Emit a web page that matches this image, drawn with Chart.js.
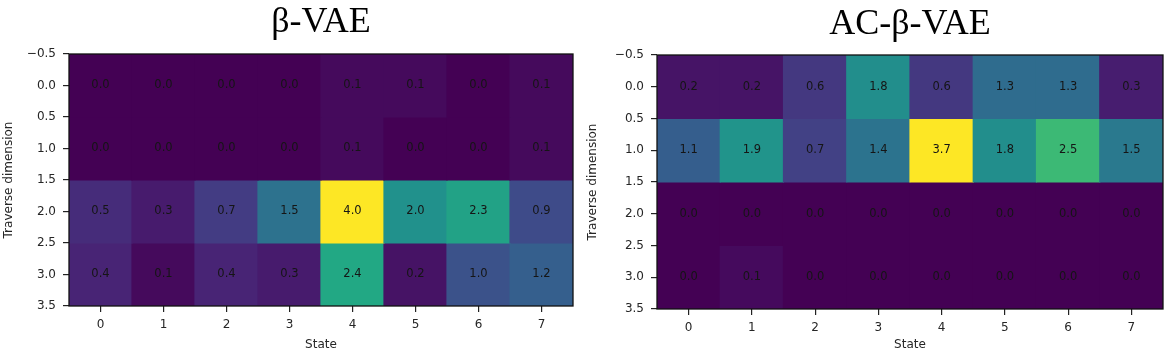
<!DOCTYPE html>
<html>
<head>
<meta charset="utf-8">
<script src="https://cdn.jsdelivr.net/npm/chart.js@4"></script>
<style>
    html, body { margin: 0; padding: 0; background: #ffffff; }
    .panel { position: absolute; top: 0; width: 584px; height: 359px; }
    #left { left: 0; }
    #right { left: 584px; }
</style>
</head>
<body>
<div class="panel" id="left"><canvas id="chartLeft" width="584" height="359"></canvas></div>
<div class="panel" id="right"><canvas id="chartRight" width="584" height="359"></canvas></div>
<script>
const states = ["0", "1", "2", "3", "4", "5", "6", "7"];
const dims = [0, 1, 2, 3];

// β-VAE, one array per traverse dimension
const betaDim0 = [0.0, 0.0, 0.0, 0.0, 0.1, 0.1, 0.0, 0.1];
const betaDim1 = [0.0, 0.0, 0.0, 0.0, 0.1, 0.0, 0.0, 0.1];
const betaDim2 = [0.5, 0.3, 0.7, 1.5, 4.0, 2.0, 2.3, 0.9];
const betaDim3 = [0.4, 0.1, 0.4, 0.3, 2.4, 0.2, 1.0, 1.2];

// AC-β-VAE
const acDim0 = [0.2, 0.2, 0.6, 1.8, 0.6, 1.3, 1.3, 0.3];
const acDim1 = [1.1, 1.9, 0.7, 1.4, 3.7, 1.8, 2.5, 1.5];
const acDim2 = [0.0, 0.0, 0.0, 0.0, 0.0, 0.0, 0.0, 0.0];
const acDim3 = [0.0, 0.1, 0.0, 0.0, 0.0, 0.0, 0.0, 0.0];

const yTicks = [-0.5, 0.0, 0.5, 1.0, 1.5, 2.0, 2.5, 3.0, 3.5];

const viridisStops = [
    "#440154", "#482475", "#414487", "#355f8d", "#2a788e", "#21918c",
    "#22a884", "#44bf70", "#7ad151", "#bddf26", "#fde725"
];

const hexToRgb = (hex) => [1, 3, 5].map((i) => parseInt(hex.slice(i, i + 2), 16));

const viridis = (t) => {
    t = Math.max(0, Math.min(1, t));
    const pos = t * (viridisStops.length - 1);
    const i = Math.min(Math.floor(pos), viridisStops.length - 2);
    const f = pos - i;
    const a = hexToRgb(viridisStops[i]);
    const b = hexToRgb(viridisStops[i + 1]);
    const c = a.map((v, k) => Math.round(v + (b[k] - v) * f));
    return `rgb(${c[0]}, ${c[1]}, ${c[2]})`;
};

const framePlugin = {
    id: "frame",
    afterDatasetsDraw(chart) {
        const { ctx, chartArea } = chart;

        // cell values
        ctx.save();
        ctx.font = "11.5px 'DejaVu Sans'";
        ctx.fillStyle = "#151515";
        ctx.textAlign = "center";
        ctx.textBaseline = "middle";
        chart.data.datasets.forEach((ds, di) => {
            const meta = chart.getDatasetMeta(di);
            meta.data.forEach((bar, i) => {
                const yMid = (bar.y + bar.base) / 2;
                ctx.fillText(ds.values[i].toFixed(1), bar.x, yMid);
            });
        });
        ctx.restore();

        ctx.save();
        ctx.strokeStyle = "#111111";
        ctx.lineWidth = 1.3;
        ctx.strokeRect(chartArea.left, chartArea.top, chartArea.right - chartArea.left, chartArea.bottom - chartArea.top);
        ctx.restore();
    }
};

const makeHeatmap = (canvas, title, rows, box) => {
    const vmax = Math.max(...rows.flat());

    return new Chart(canvas, {
        type: "bar",
        data: {
            labels: states,
            datasets: rows.map((row, r) => ({
                data: row.map(() => [dims[r] - 0.5, dims[r] + 0.5]),
                values: row,
                backgroundColor: row.map((v) => viridis(v / vmax)),
                borderWidth: 0,
                inflateAmount: 0.6,
                barPercentage: 1,
                categoryPercentage: 1,
                grouped: false
            }))
        },
        options: {
            responsive: false,
            animation: false,
            layout: {
                padding: { left: 0, right: box.padRight, top: 0, bottom: 0 }
            },
            plugins: {
                legend: { display: false },
                tooltip: { enabled: false },
                title: {
                    display: true,
                    fullSize: false,
                    text: title,
                    color: "#000000",
                    font: { family: "'Liberation Serif'", size: 36, weight: "normal", lineHeight: 1.1 },
                    padding: { top: box.titleTop, bottom: box.titleBottom }
                }
            },
            scales: {
                x: {
                    afterFit: (scale) => { scale.height = box.xHeight; },
                    border: { display: false },
                    grid: {
                        display: true,
                        offset: false,
                        drawOnChartArea: false,
                        drawTicks: true,
                        tickLength: 6,
                        color: "#222222",
                        lineWidth: 1.2
                    },
                    ticks: {
                        color: "#262626",
                        font: { family: "'DejaVu Sans'", size: 12 },
                        padding: 6,
                        maxRotation: 0
                    },
                    title: {
                        display: true,
                        text: "State",
                        color: "#262626",
                        font: { family: "'DejaVu Sans'", size: 12 },
                        padding: { top: 0, bottom: 7 }
                    }
                },
                y: {
                    type: "linear",
                    reverse: true,
                    min: -0.5,
                    max: 3.5,
                    afterFit: (scale) => { scale.width = box.yWidth; },
                    afterBuildTicks: (scale) => { scale.ticks = yTicks.map((v) => ({ value: v })); },
                    border: { display: false },
                    grid: {
                        display: true,
                        drawOnChartArea: false,
                        drawTicks: true,
                        tickLength: 6,
                        color: "#222222",
                        lineWidth: 1.2
                    },
                    ticks: {
                        color: "#262626",
                        font: { family: "'DejaVu Sans'", size: 12 },
                        padding: 7,
                        callback: (v) => (v < 0 ? "\u2212" + Math.abs(v).toFixed(1) : v.toFixed(1))
                    },
                    title: {
                        display: true,
                        text: "Traverse dimension",
                        color: "#262626",
                        font: { family: "'DejaVu Sans'", size: 12 },
                        padding: { top: 2, bottom: 0 }
                    }
                }
            }
        },
        plugins: [framePlugin]
    });
};

makeHeatmap(
    document.getElementById("chartLeft"),
    "\u03b2-VAE",
    [betaDim0, betaDim1, betaDim2, betaDim3],
    { padRight: 11, yWidth: 69, xHeight: 53, titleTop: 3, titleBottom: 11.4 }
);

makeHeatmap(
    document.getElementById("chartRight"),
    "AC-\u03b2-VAE",
    [acDim0, acDim1, acDim2, acDim3],
    { padRight: 5, yWidth: 73, xHeight: 50, titleTop: 5, titleBottom: 10.4 }
);
</script>
</body>
</html>
